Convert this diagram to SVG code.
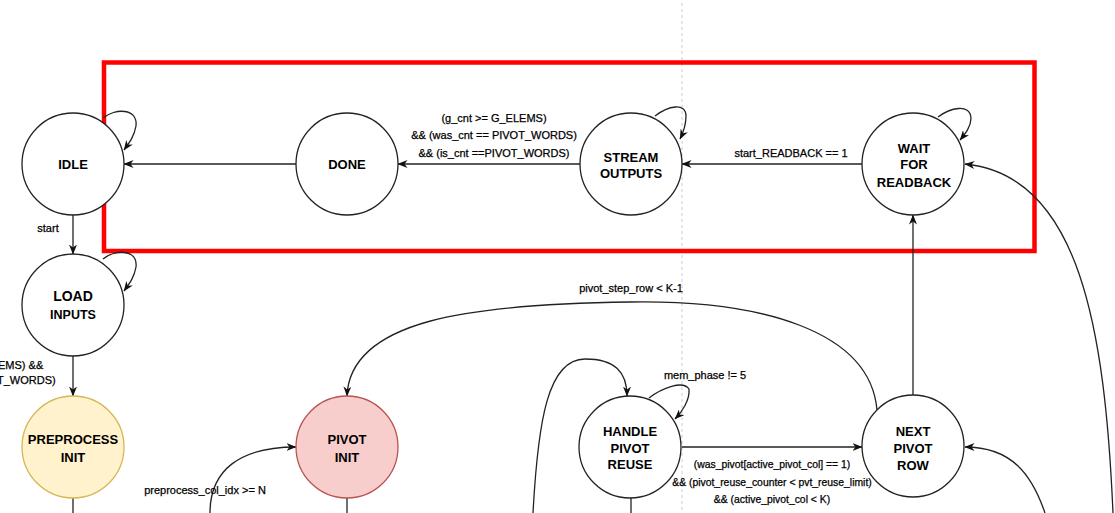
<svg xmlns="http://www.w3.org/2000/svg" width="1115" height="513" viewBox="0 0 1115 513">
<style>
.node circle{fill:#fff;stroke:#222;stroke-width:1.3}
.nt{font-family:"Liberation Sans",Arial,sans-serif;font-weight:bold;font-size:13px;fill:#000;text-anchor:middle}
.el{font-family:"Liberation Sans",Arial,sans-serif;font-size:11px;fill:#000;stroke:#000;stroke-width:0.25;text-anchor:middle}
.es{font-family:"Liberation Sans",Arial,sans-serif;font-size:10.4px;fill:#000;stroke:#000;stroke-width:0.25;text-anchor:middle}
.edge{fill:none;stroke:#222;stroke-width:1.3;marker-end:url(#arr)}
.plain{fill:none;stroke:#222;stroke-width:1.3}
</style>
<defs>
<marker id="arr" viewBox="0 0 10 8" refX="9.5" refY="4" markerWidth="10" markerHeight="8" markerUnits="userSpaceOnUse" orient="auto">
<path d="M0,0 L10,4 L0,8 L3,4 z" fill="#111"/>
</marker>
</defs>
<rect width="1115" height="513" fill="#fff"/>
<line x1="682" y1="3" x2="682" y2="513" stroke="#ccc" stroke-width="1" stroke-dasharray="3 3"/>
<rect x="104" y="62.5" width="930.5" height="188.5" fill="none" stroke="#ff0000" stroke-width="4.5"/>
<g id="connectors">
<path class="edge" d="M296 164 L124 164"/>
<path class="edge" d="M580 164 L398 164"/>
<path class="edge" d="M862 164 L682 164"/>
<path class="edge" d="M73 215 L73 254"/>
<path class="edge" d="M73 356 L73 396"/>
<path class="edge" d="M913 396 L913 215"/>
<path class="edge" d="M682 447 L862 447"/>
<path class="edge" d="M877 410 C870 330 760 300 630 302 C470 304 350 320 347 396"/>
<path class="edge" d="M1113 513 C1105 330 1080 175 965 164"/>
<path class="edge" d="M1045 513 C1032 475 1012 447 965 447"/>
<path class="edge" d="M533 513 C538 420 548 359 585 359 C615 359 627 372 627 396"/>
<path class="edge" d="M210 513 C210 470 240 447 296 447"/>
<path class="plain" d="M73 498 L73 513"/>
<path class="plain" d="M347 498 L347 513"/>
<path class="plain" d="M631 498 L631 513"/>
<path class="edge" d="M103 118 C115 108 138 108 136 126 C134 137 129 143 124 150"/>
<path class="edge" d="M103 259 C115 249 138 249 136 267 C134 278 129 284 124 291"/>
<path class="edge" d="M655 116 C668 106 686 102 686 116 C686 126 683 133 680 139"/>
<path class="edge" d="M938 117 C950 108 970 103 971 118 C971 127 965 134 960 140"/>
<path class="edge" d="M649 398 C662 388 683 380 689 389 C690 400 682 412 675 419"/>
<text class="el" x="494" y="122">(g_cnt &gt;= G_ELEMS)</text>
<text class="el" x="494" y="139">&amp;&amp; (was_cnt == PIVOT_WORDS)</text>
<text class="el" x="494" y="157">&amp;&amp; (is_cnt ==PIVOT_WORDS)</text>
<text class="el" x="791" y="157">start_READBACK == 1</text>
<text class="el" x="48" y="232">start</text>
<text class="el" x="-2" y="369" style="text-anchor:start">EMS) &amp;&amp;</text>
<text class="el" x="-3" y="384" style="text-anchor:start">T_WORDS)</text>
<text class="el" x="631" y="292">pivot_step_row &lt; K-1</text>
<text class="el" x="705" y="379">mem_phase != 5</text>
<text class="el" x="205" y="494">preprocess_col_idx &gt;= N</text>
<text class="es" x="772" y="468">(was_pivot[active_pivot_col] == 1)</text>
<text class="es" x="772" y="486">&amp;&amp; (pivot_reuse_counter &lt; pvt_reuse_limit)</text>
<text class="es" x="772" y="503">&amp;&amp; (active_pivot_col &lt; K)</text>
</g>
<g id="idle" class="node"><circle cx="73" cy="164" r="51"/><text class="nt" x="73" y="169">IDLE</text></g>
<g id="done" class="node"><circle cx="347" cy="164" r="51"/><text class="nt" x="347" y="169">DONE</text></g>
<g id="stream_outputs" class="node"><circle cx="631" cy="164" r="51"/><text class="nt" x="631" y="161.5">STREAM</text><text class="nt" x="631" y="178">OUTPUTS</text></g>
<g id="wait_for_readback" class="node"><circle cx="913" cy="164" r="51"/><text class="nt" x="914" y="152.5">WAIT</text><text class="nt" x="914" y="169">FOR</text><text class="nt" x="914" y="186.5">READBACK</text></g>
<g id="load_inputs" class="node"><circle cx="73" cy="305" r="51"/><text class="nt" x="73" y="301" style="font-size:14px">LOAD</text><text class="nt" x="73" y="318.5" style="font-size:12.5px">INPUTS</text></g>
<g id="preprocess_init" class="node"><circle cx="73" cy="447" r="51" style="fill:#fff2cc;stroke:#d6b656"/><text class="nt" x="73" y="443.5">PREPROCESS</text><text class="nt" x="73" y="461.5">INIT</text></g>
<g id="pivot_init" class="node"><circle cx="347" cy="447" r="51" style="fill:#f8cecc;stroke:#b85450"/><text class="nt" x="347" y="443.5">PIVOT</text><text class="nt" x="347" y="461.5">INIT</text></g>
<g id="handle_pivot_reuse" class="node"><circle cx="630" cy="447" r="51"/><text class="nt" x="630" y="435.5">HANDLE</text><text class="nt" x="630" y="452.5">PIVOT</text><text class="nt" x="630" y="469">REUSE</text></g>
<g id="next_pivot_row" class="node"><circle cx="913" cy="446" r="51"/><text class="nt" x="913" y="435.5">NEXT</text><text class="nt" x="913" y="452.5">PIVOT</text><text class="nt" x="913" y="469.5">ROW</text></g>
</svg>
